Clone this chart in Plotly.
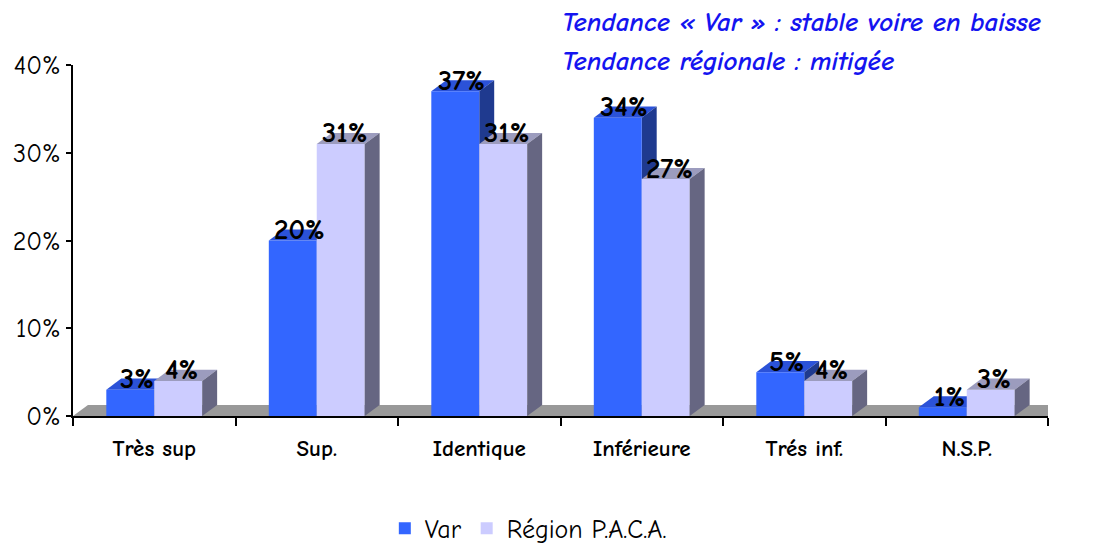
import plotly.graph_objects as go

categories = ["Très sup", "Sup.", "Identique", "Inférieure", "Trés inf.", "N.S.P."]
var_values = [3, 20, 37, 34, 5, 1]
paca_values = [4, 31, 31, 27, 4, 3]
var_labels = ["3%", "20%", "37%", "34%", "5%", "1%"]
paca_labels = ["4%", "31%", "31%", "27%", "4%", "3%"]
series_names = ["Var", "Région P.A.C.A."]
y_ticks = [0, 10, 20, 30, 40]
y_ticktext = ["0%", "10%", "20%", "30%", "40%"]
title_lines = ["Tendance « Var » : stable voire en baisse", "Tendance régionale : mitigée"]

FONT = "Comic Sans MS, Comic Neue, DejaVu Sans, sans-serif"
VAR_FRONT, VAR_TOP, VAR_SIDE = "#3366FF", "#2B52D8", "#1F3A8F"
REG_FRONT, REG_TOP, REG_SIDE = "#CCCCFF", "#9C9CBE", "#666682"
FLOOR = "#999999"

W = 0.295   # bar width (category units)
DX = 0.092  # depth offset x (category units)
DY = 1.26   # depth offset y (percent units)

fig = go.Figure()
fig.add_trace(go.Bar(x=categories, y=var_values, name=series_names[0],
                     marker=dict(color=VAR_FRONT, line=dict(width=0))))
fig.add_trace(go.Bar(x=categories, y=paca_values, name=series_names[1],
                     marker=dict(color=REG_FRONT, line=dict(width=0))))

shapes = []
n = len(categories)
shapes.append(dict(type="path", xref="x", yref="y", layer="below",
                   path=f"M {-0.5},0 L {n-0.5},0 L {n-0.5+DX},{DY} L {-0.5+DX},{DY} Z",
                   fillcolor=FLOOR, line=dict(width=0)))

def box_faces(x0, x1, v, top, side, layer):
    return [
        dict(type="path", xref="x", yref="y", layer=layer,
             path=f"M {x0},{v} L {x1},{v} L {x1+DX},{v+DY} L {x0+DX},{v+DY} Z",
             fillcolor=top, line=dict(width=0)),
        dict(type="path", xref="x", yref="y", layer=layer,
             path=f"M {x1},0 L {x1+DX},{DY} L {x1+DX},{v+DY} L {x1},{v} Z",
             fillcolor=side, line=dict(width=0)),
    ]

for i, v in enumerate(var_values):
    shapes += box_faces(i - W, i, v, VAR_TOP, VAR_SIDE, "below")
for i, v in enumerate(paca_values):
    shapes += box_faces(i, i + W, v, REG_TOP, REG_SIDE, "above")

LBL = dict(family=FONT, size=29, color="black", weight="bold")
annotations = []
for i, (v, t) in enumerate(zip(var_values, var_labels)):
    annotations.append(dict(x=i - W / 2 + DX / 2, y=v + DY, xref="x", yref="y", text=t,
                            showarrow=False, xshift=-1, yanchor="middle", font=LBL))
for i, (v, t) in enumerate(zip(paca_values, paca_labels)):
    annotations.append(dict(x=i + W / 2 + DX / 2, y=v + DY, xref="x", yref="y", text=t,
                            showarrow=False, xshift=-4, yanchor="middle", font=LBL))

title_y = [1.1225, 1.011]
for line, ty in zip(title_lines, title_y):
    annotations.append(dict(x=0.4995, y=ty, xref="paper", yref="paper",
                            xanchor="left", yanchor="middle", showarrow=False,
                            text=f"<i>{line}</i>",
                            font=dict(family=FONT, size=27, color="#1414F0", weight="bold")))

fig.update_layout(
    width=1112, height=544,
    margin=dict(l=65, r=72, t=57, b=136, autoexpand=False),
    paper_bgcolor="white", plot_bgcolor="white",
    barmode="group", bargap=1 - 2 * W, bargroupgap=0,
    shapes=shapes,
    annotations=annotations,
    showlegend=True,
    legend=dict(orientation="h", x=0.467, y=-0.32, xanchor="center", yanchor="middle",
                font=dict(family=FONT, size=26, color="black"), itemwidth=30,
                traceorder="normal"),
    font=dict(family=FONT, color="black"),
)
fig.update_xaxes(type="category", range=[-0.5, n - 0.5], showline=True, linecolor="black",
                 linewidth=2, ticks="outside", tickson="boundaries", ticklen=8,
                 tickcolor="black", tickwidth=1.5, showgrid=False, zeroline=False,
                 automargin=False, ticklabelstandoff=10,
                 tickfont=dict(family=FONT, size=23, color="black", weight="bold"))
fig.update_yaxes(range=[0, 40], tickmode="array", tickvals=y_ticks, ticktext=y_ticktext,
                 showline=True, linecolor="black", linewidth=2, ticks="outside",
                 ticklen=5, tickcolor="black", tickwidth=2, showgrid=False,
                 zeroline=False, automargin=False,
                 tickfont=dict(family=FONT, size=26, color="black"))

fig.write_html("out.html")
